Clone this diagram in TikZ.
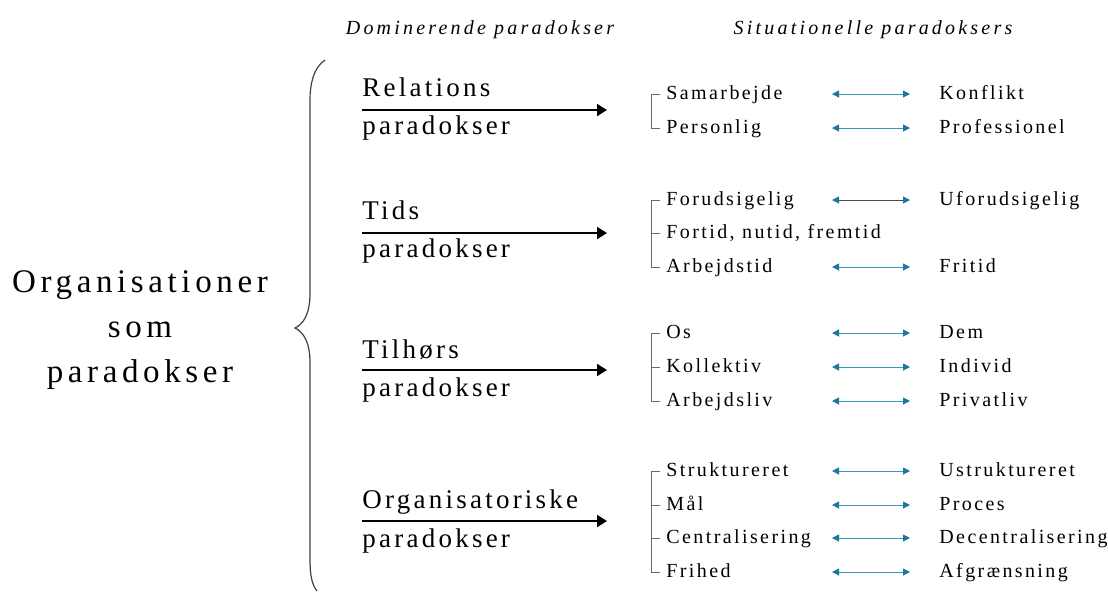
\documentclass[tikz,border=0pt]{standalone}
\usepackage{fontspec}
\setmainfont{Liberation Serif}
\newfontfamily\bigsp[LetterSpace=14]{Liberation Serif}
\newfontfamily\midsp[LetterSpace=12]{Liberation Serif}
\newfontfamily\smallsp[LetterSpace=12]{Liberation Serif}
\newfontfamily\hdrsp[LetterSpace=16]{Liberation Serif}
\usepackage{tikz}
\usetikzlibrary{arrows.meta}

\definecolor{poldark}{RGB}{28,118,160}
\definecolor{polline}{RGB}{60,150,190}
\definecolor{brgray}{RGB}{105,105,105}

\tikzset{
  titel/.style={font=\bigsp\fontsize{16.5}{20}\selectfont, inner sep=0pt},
  hoved/.style={font=\midsp\fontsize{13.5}{16}\selectfont, inner sep=0pt, anchor=base west},
  punkt/.style={font=\smallsp\fontsize{10}{12}\selectfont, inner sep=0pt, anchor=base west},
  overskrift/.style={font=\hdrsp\itshape\fontsize{10}{12}\selectfont, inner sep=0pt},
  hovedpil/.style={line width=1pt, -{Triangle[length=5pt,width=6pt]}},
  polpil/.style={line width=.5pt, draw=polline, {Triangle[length=3.5pt,width=3.5pt,color=poldark]}-{Triangle[length=3.5pt,width=3.5pt,color=poldark]}},
  klamme/.style={draw=brgray, line width=.5pt}
}

\begin{document}
\begin{tikzpicture}[x=.5pt,y=-.5pt]
\useasboundingbox (0,0) rectangle (1108,591);

\node[overskrift](H1) at (480,30){Dominerende paradokser};
\node[overskrift](H2) at (873,30){Situationelle paradoksers};

\node[titel, anchor=base](T1) at (140,292){Organisationer};
\node[titel, anchor=base](T2) at (140,337){som};
\node[titel, anchor=base](T3) at (140,382){paradokser};

\draw[klamme, draw=black!75, line width=.6pt] (325,60) .. controls (313,68) and (310,85) .. (310,100)
  -- (310,293) .. controls (310,315) and (303,324) .. (295,328)
  .. controls (303,332) and (310,341) .. (310,363)
  -- (310,560) .. controls (310,575) and (312,585) .. (317,591);

\node[hoved](D1a) at (362,96){Relations};
\node[hoved](D1b) at (362,134){paradokser};
\coordinate (D1s) at (362,110);
\coordinate (D1e) at (607,110);
\draw[hovedpil] (D1s) -- (D1e);

\node[hoved](D2a) at (362,219){Tids};
\node[hoved](D2b) at (362,257){paradokser};
\coordinate (D2s) at (362,233);
\coordinate (D2e) at (607,233);
\draw[hovedpil] (D2s) -- (D2e);

\node[hoved](D3a) at (362,358){Tilhørs};
\node[hoved](D3b) at (362,396){paradokser};
\coordinate (D3s) at (362,370);
\coordinate (D3e) at (607,370);
\draw[hovedpil] (D3s) -- (D3e);

\node[hoved](D4a) at (362,508){Organisatoriske};
\node[hoved](D4b) at (362,547){paradokser};
\coordinate (D4s) at (362,521);
\coordinate (D4e) at (607,521);
\draw[hovedpil] (D4s) -- (D4e);

\node[punkt](A1) at (666,99){Samarbejde};
\node[punkt](A2) at (666,133){Personlig};
\node[punkt](B1) at (939,99){Konflikt};
\node[punkt](B2) at (939,133){Professionel};
\draw[klamme] (660,94) -- (651,94) -- (651,128) -- (660,128);
\coordinate (P1s) at (832,94); \coordinate (P1e) at (910,94);
\coordinate (P2s) at (832,128); \coordinate (P2e) at (910,128);
\draw[polpil] (P1s) -- (P1e);
\draw[polpil] (P2s) -- (P2e);

\node[punkt](A3) at (666,205){Forudsigelig};
\node[punkt](A4) at (666,238){Fortid, nutid, fremtid};
\node[punkt](A5) at (666,272){Arbejdstid};
\node[punkt](B3) at (939,205){Uforudsigelig};
\node[punkt](B5) at (939,272){Fritid};
\draw[klamme] (660,200) -- (651,200) -- (651,267) -- (660,267);
\draw[klamme] (651,233) -- (660,233);
\coordinate (P3s) at (832,200); \coordinate (P3e) at (910,200);
\coordinate (P5s) at (832,267); \coordinate (P5e) at (910,267);
\draw[polpil, draw=black!70] (P3s) -- (P3e);
\draw[polpil] (P5s) -- (P5e);

\node[punkt](A6) at (666,338){Os};
\node[punkt](A7) at (666,372){Kollektiv};
\node[punkt](A8) at (666,406){Arbejdsliv};
\node[punkt](B6) at (939,338){Dem};
\node[punkt](B7) at (939,372){Individ};
\node[punkt](B8) at (939,406){Privatliv};
\draw[klamme] (660,333) -- (651,333) -- (651,401) -- (660,401);
\draw[klamme] (651,367) -- (660,367);
\coordinate (P6s) at (832,333); \coordinate (P6e) at (910,333);
\coordinate (P7s) at (832,367); \coordinate (P7e) at (910,367);
\coordinate (P8s) at (832,401); \coordinate (P8e) at (910,401);
\draw[polpil] (P6s) -- (P6e);
\draw[polpil] (P7s) -- (P7e);
\draw[polpil] (P8s) -- (P8e);

\node[punkt](A9) at (666,476){Struktureret};
\node[punkt](A10) at (666,510){Mål};
\node[punkt](A11) at (666,543){Centralisering};
\node[punkt](A12) at (666,577){Frihed};
\node[punkt](B9) at (939,476){Ustruktureret};
\node[punkt](B10) at (939,510){Proces};
\node[punkt](B11) at (939,543){Decentralisering};
\node[punkt](B12) at (939,577){Afgrænsning};
\draw[klamme] (660,471) -- (651,471) -- (651,572) -- (660,572);
\draw[klamme] (651,505) -- (660,505);
\draw[klamme] (651,538) -- (660,538);
\coordinate (P9s) at (832,471); \coordinate (P9e) at (910,471);
\coordinate (P10s) at (832,505); \coordinate (P10e) at (910,505);
\coordinate (P11s) at (832,538); \coordinate (P11e) at (910,538);
\coordinate (P12s) at (832,572); \coordinate (P12e) at (910,572);
\draw[polpil] (P9s) -- (P9e);
\draw[polpil] (P10s) -- (P10e);
\draw[polpil] (P11s) -- (P11e);
\draw[polpil] (P12s) -- (P12e);
\end{tikzpicture}
\end{document}
